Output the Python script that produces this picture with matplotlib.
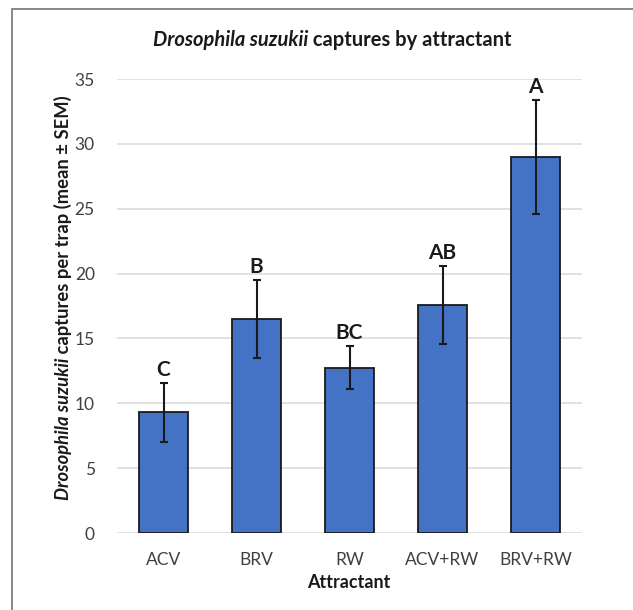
import matplotlib.pyplot as plt
from matplotlib.patches import Rectangle

plt.rcParams['font.family'] = ['Lato', 'DejaVu Sans']

# Mean captures per trap and SEM by attractant
attractants = ["ACV", "BRV", "RW", "ACV+RW", "BRV+RW"]
means = [9.3, 16.5, 12.75, 17.6, 29.0]
sems = [2.3, 3.0, 1.65, 3.0, 4.4]
groups = ["C", "B", "BC", "AB", "A"]
yticks = [0, 5, 10, 15, 20, 25, 30, 35]

W, H = 633, 610
fig = plt.figure(figsize=(W / 100, H / 100), dpi=100)
ax = fig.add_axes([117 / W, 1 - 533 / H, 465 / W, 454 / H])

x = range(len(attractants))
ax.bar(x, means, width=0.52, color="#4472C4", edgecolor="#1a1a1a", linewidth=1.3, zorder=3)
ax.errorbar(x, means, yerr=sems, fmt="none", ecolor="#1a1a1a", elinewidth=1.5,
            capsize=3, capthick=1.5, zorder=4)
for i, (m, s, g) in enumerate(zip(means, sems, groups)):
    ax.annotate(g, (i, m + s), xytext=(0, 2), textcoords="offset points",
                ha="center", va="bottom", fontsize=15, fontweight="bold", color="#1a1a1a")

ax.set_xlim(-0.5, len(attractants) - 0.5)
ax.set_ylim(0, 35)
ax.set_yticks(yticks)
ax.set_xticks(list(x))
ax.set_xticklabels(attractants)
ax.tick_params(axis="both", length=0, labelsize=12.5, labelcolor="#404040")
ax.tick_params(axis="y", pad=16)
ax.tick_params(axis="x", pad=14)
ax.grid(axis="y", color="#d9d9d9", linewidth=1.1, zorder=0)
for sp in ax.spines.values():
    sp.set_visible(False)

fig.text(349 / W, 1 - 583 / H, "Attractant", ha="center", va="center",
         fontsize=13, fontweight="bold", color="#1a1a1a")


def rich_text(px, py, parts, rotation=0, size=13):
    # draw text pieces end to end, centred on (px, py) in pixels
    r = fig.canvas.get_renderer()
    widths = []
    for txt, style in parts:
        t = fig.text(0, 0, txt, fontsize=size, fontweight="bold", style=style)
        widths.append(t.get_window_extent(r).width)
        t.remove()
    total = sum(widths)
    pos = -total / 2
    for (txt, style), w in zip(parts, widths):
        if rotation == 0:
            tx, ty = px + pos, py
        else:
            tx, ty = px, py + pos
        fig.text(tx / W, ty / H, txt, fontsize=size, fontweight="bold", style=style,
                 rotation=rotation, rotation_mode="anchor", ha="left", va="center",
                 color="#1a1a1a")
        pos += w


rich_text(332, H - 40, [("Drosophila suzukii", "italic"), (" captures by attractant", "normal")], size=14.5)
rich_text(63, H - 298, [("Drosophila suzukii", "italic"), (" captures per trap (mean \u00b1 SEM)", "normal")],
          rotation=90, size=13.2)

fig.patches.append(Rectangle((12 / W, -0.1), 1.2, 1.1 - 9 / H, transform=fig.transFigure,
                             fill=False, edgecolor="#7f7f7f", linewidth=1.3))

fig.savefig("out.png", dpi=100)
